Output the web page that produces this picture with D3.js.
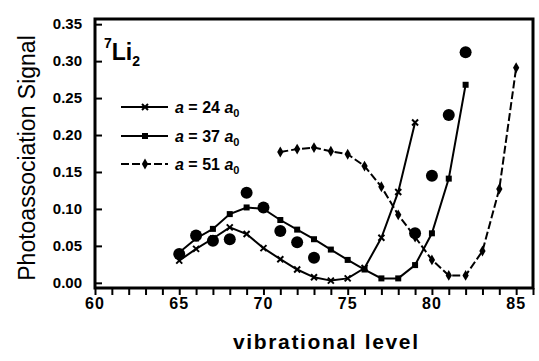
<!DOCTYPE html>
<html>
<head>
<meta charset="utf-8">
<script src="https://cdn.jsdelivr.net/npm/d3@7"></script>
<style>
  body { margin: 0; background: #fff; }
  text { font-family: "Liberation Sans", Arial, sans-serif; fill: #000; }
</style>
</head>
<body>
<div id="chart"></div>
<script>
// vibrational levels and signals
const levels24 = [65, 66, 67, 68, 69, 70, 71, 72, 73, 74, 75, 76, 77, 78, 79];
const signal24 = [0.030, 0.046, 0.060, 0.075, 0.066, 0.047, 0.032, 0.018, 0.0075, 0.003, 0.006, 0.020, 0.061, 0.123, 0.217];

const levels37 = [65, 66, 67, 68, 69, 70, 71, 72, 73, 74, 75, 76, 77, 78, 79, 80, 81, 82];
const signal37 = [0.041, 0.060, 0.073, 0.093, 0.102, 0.100, 0.085, 0.072, 0.059, 0.045, 0.031, 0.018, 0.006, 0.006, 0.024, 0.067, 0.141, 0.268];

const levels51 = [71, 72, 73, 74, 75, 76, 77, 78, 79, 80, 81, 82, 83, 84, 85];
const signal51 = [0.177, 0.181, 0.183, 0.178, 0.174, 0.158, 0.130, 0.092, 0.062, 0.031, 0.010, 0.010, 0.043, 0.127, 0.291];

// measured points (big dots)
const levelsExp = [65, 66, 67, 68, 69, 70, 71, 72, 73, 79, 80, 81, 82];
const signalExp = [0.039, 0.064, 0.057, 0.059, 0.122, 0.102, 0.070, 0.055, 0.034, 0.067, 0.145, 0.227, 0.312];

const xTicks = d3.range(60, 87, 1);
const xLabels = [60, 65, 70, 75, 80, 85];
const yTicks = [0, 0.05, 0.10, 0.15, 0.20, 0.25, 0.30, 0.35];

const legendLabels = ["24", "37", "51"];

const width = 539, height = 361;
const margin = {left: 95, right: 6, top: 19, bottom: 73};

const svg = d3.select("#chart").append("svg")
    .attr("width", width)
    .attr("height", height);

const x = d3.scaleLinear().domain([60, 86]).range([margin.left, width - margin.right]);
const y = d3.scaleLinear().domain([-0.007, 0.357]).range([height - margin.bottom, margin.top]);

// frame
svg.append("rect")
    .attr("x", x(60)).attr("y", y(0.357))
    .attr("width", x(86) - x(60)).attr("height", y(-0.007) - y(0.357))
    .attr("fill", "none").attr("stroke", "#000").attr("stroke-width", 3);

// x axis: outward ticks every level
const xAxis = svg.append("g")
    .attr("transform", `translate(0,${y(-0.007)})`)
    .call(d3.axisBottom(x).tickValues(xTicks).tickSize(7).tickFormat(""));
xAxis.select(".domain").remove();
xAxis.selectAll(".tick line").attr("stroke-width", 2);

svg.selectAll(".xlab")
    .data(xLabels)
    .enter().append("text")
    .attr("class", "xlab")
    .attr("x", d => x(d))
    .attr("y", 309)
    .attr("text-anchor", "middle")
    .attr("font-size", 16)
    .attr("font-weight", "bold")
    .attr("letter-spacing", 1)
    .text(d => d);

// y axis: inward ticks
const yAxis = svg.append("g")
    .attr("transform", `translate(${x(60)},0)`)
    .call(d3.axisRight(y).tickValues(yTicks).tickSize(7).tickFormat(""));
yAxis.select(".domain").remove();
yAxis.selectAll(".tick line").attr("stroke-width", 2);

svg.selectAll(".ylab")
    .data(yTicks)
    .enter().append("text")
    .attr("class", "ylab")
    .attr("x", 82)
    .attr("y", d => y(d) + 5)
    .attr("text-anchor", "end")
    .attr("font-size", 15)
    .attr("font-weight", "bold")
    .text(d => d3.format(".2f")(d));

// axis titles
svg.append("text")
    .attr("transform", "translate(35,158) rotate(-90)")
    .attr("text-anchor", "middle")
    .attr("font-size", 23)
    .text("Photoassociation Signal");

svg.append("text")
    .attr("x", 233).attr("y", 349)
    .attr("font-size", 21)
    .attr("font-weight", "bold")
    .attr("textLength", 185)
    .attr("lengthAdjust", "spacing")
    .text("vibrational level");

// molecule label
const mol = svg.append("text")
    .attr("x", 104).attr("y", 60)
    .attr("font-weight", "bold");
mol.append("tspan").attr("font-size", 14).attr("dy", -12).text("7");
mol.append("tspan").attr("font-size", 23).attr("dy", 12).text("Li");
mol.append("tspan").attr("font-size", 14).attr("dy", 6).text("2");

// markers
function drawMarker(g, kind, cx, cy) {
    if (kind === "x") {
        g.append("path")
            .attr("d", `M${cx - 3},${cy - 3}L${cx + 3},${cy + 3}M${cx - 3},${cy + 3}L${cx + 3},${cy - 3}`)
            .attr("stroke", "#000").attr("stroke-width", 2);
    } else if (kind === "square") {
        g.append("rect")
            .attr("x", cx - 3).attr("y", cy - 3)
            .attr("width", 6).attr("height", 6)
            .attr("fill", "#000");
    } else {
        g.append("path")
            .attr("d", d3.symbol(d3.symbolDiamond, 34)())
            .attr("transform", `translate(${cx},${cy})`)
            .attr("fill", "#000");
    }
}

const series = [
    {levels: levels24, signal: signal24, marker: "x", dash: null},
    {levels: levels37, signal: signal37, marker: "square", dash: null},
    {levels: levels51, signal: signal51, marker: "diamond", dash: "8,3"}
];

const line = d3.line().x(d => x(d[0])).y(d => y(d[1]));

series.forEach(s => {
    const pts = s.levels.map((l, i) => [l, s.signal[i]]);
    svg.append("path")
        .datum(pts)
        .attr("d", line)
        .attr("fill", "none")
        .attr("stroke", "#000")
        .attr("stroke-width", 2)
        .attr("stroke-dasharray", s.dash);
    const g = svg.append("g");
    pts.forEach(p => drawMarker(g, s.marker, x(p[0]), y(p[1])));
});

// measured dots
svg.selectAll(".dot")
    .data(levelsExp.map((l, i) => [l, signalExp[i]]))
    .enter().append("circle")
    .attr("class", "dot")
    .attr("cx", d => x(d[0]))
    .attr("cy", d => y(d[1]))
    .attr("r", 6)
    .attr("fill", "#000");

// legend
const legendY = [107, 136, 164];
series.forEach((s, i) => {
    const g = svg.append("g");
    g.append("line")
        .attr("x1", 121).attr("x2", 168)
        .attr("y1", legendY[i]).attr("y2", legendY[i])
        .attr("stroke", "#000").attr("stroke-width", 2)
        .attr("stroke-dasharray", s.dash);
    drawMarker(g, s.marker, 145, legendY[i]);
    const t = g.append("text")
        .attr("x", 175).attr("y", legendY[i] + 6)
        .attr("font-size", 16)
        .attr("font-weight", "bold");
    t.append("tspan").attr("font-style", "italic").text("a");
    t.append("tspan").text(" = " + legendLabels[i] + " ");
    t.append("tspan").attr("font-style", "italic").text("a");
    t.append("tspan").attr("font-size", 11).attr("dy", 4).text("0");
});
</script>
</body>
</html>
